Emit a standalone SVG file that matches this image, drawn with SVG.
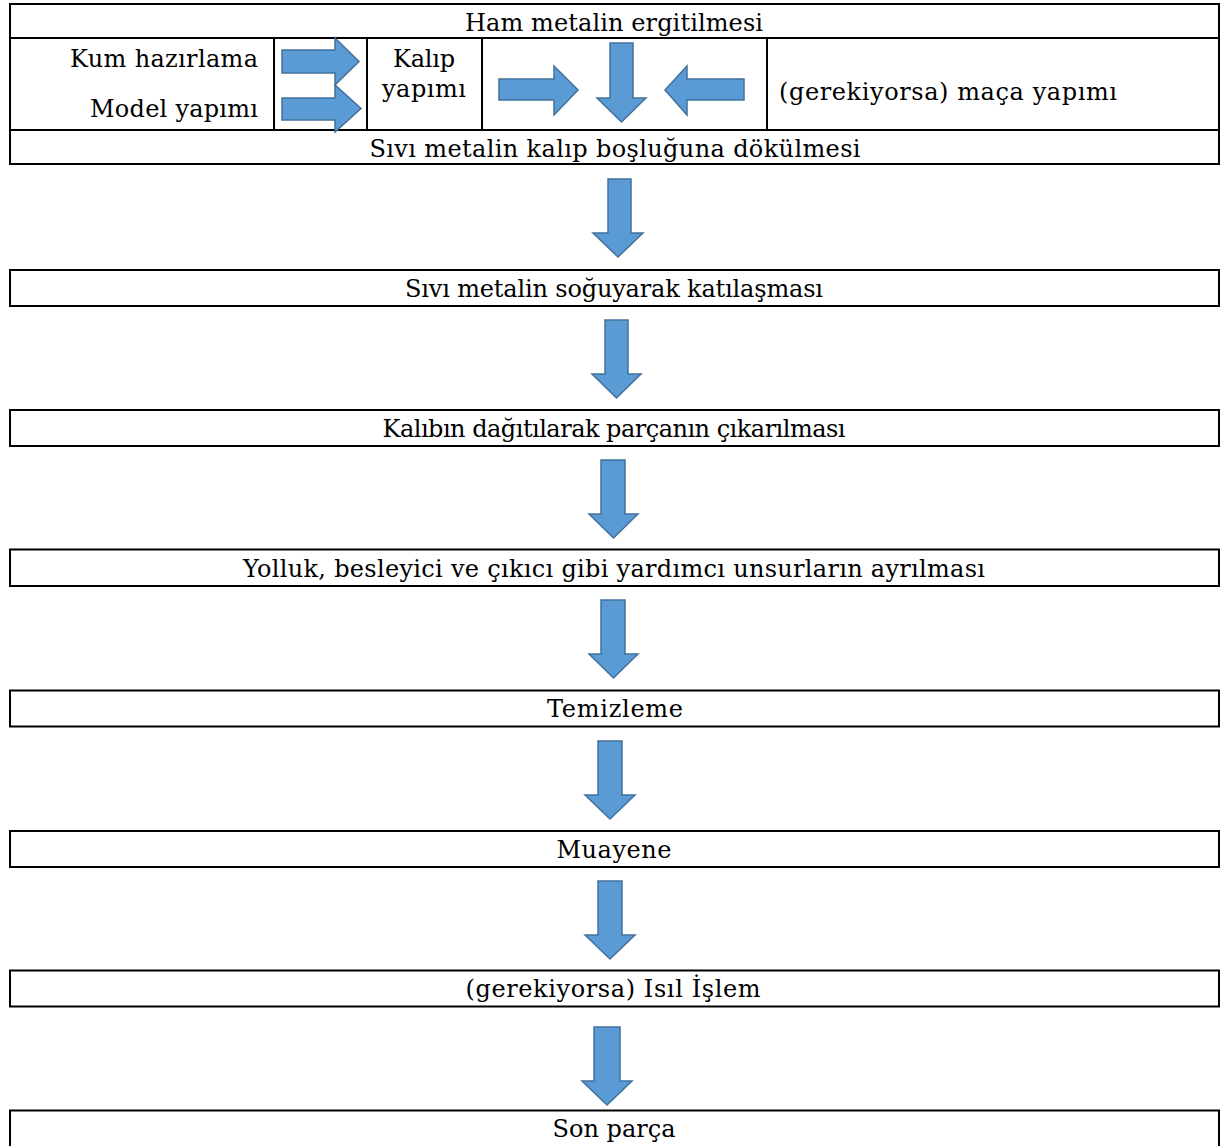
<svg xmlns="http://www.w3.org/2000/svg" width="1223" height="1146" viewBox="0 0 1223 1146">
<style>
.ln{fill:none;stroke:#000;stroke-width:2}
.box{fill:#fff;stroke:#000;stroke-width:2}
.ar{fill:#5B9BD5;stroke:#41719C;stroke-width:1.5;stroke-linejoin:miter}
text{font-family:"DejaVu Serif","Liberation Serif",serif;font-size:24px;fill:#000}
.c{text-anchor:middle}
.r{text-anchor:end}
</style>
<rect width="1223" height="1146" fill="#fff"/>
<g id="top-table">
<rect class="box" x="10" y="4" width="1209" height="160"/>
<line class="ln" x1="10" y1="38" x2="1219" y2="38"/>
<line class="ln" x1="10" y1="130" x2="1219" y2="130"/>
<line class="ln" x1="274" y1="38" x2="274" y2="130"/>
<line class="ln" x1="367" y1="38" x2="367" y2="130"/>
<line class="ln" x1="482" y1="38" x2="482" y2="130"/>
<line class="ln" x1="767" y1="38" x2="767" y2="130"/>
</g>
<g id="n-ham"><text class="c" x="614" y="31" textLength="298">Ham metalin ergitilmesi</text></g>
<g id="n-kum"><text class="r" x="258" y="67" textLength="188">Kum hazırlama</text></g>
<g id="n-model"><text class="r" x="258" y="117" textLength="168">Model yapımı</text></g>
<g id="n-kalip"><text class="c" x="424" y="67" textLength="62">Kalıp</text><text class="c" x="424" y="97" textLength="84">yapımı</text></g>
<g id="n-maca"><text x="779" y="100" textLength="338">(gerekiyorsa) maça yapımı</text></g>
<g id="n-dokulme"><text class="c" x="615" y="157" textLength="491">Sıvı metalin kalıp boşluğuna dökülmesi</text></g>
<g id="n-katilasma"><rect class="box" x="10" y="270" width="1209" height="36"/><text class="c" x="614" y="297" textLength="418">Sıvı metalin soğuyarak katılaşması</text></g>
<g id="n-kalibin"><rect class="box" x="10" y="410" width="1209" height="36"/><text class="c" x="614" y="437" textLength="463">Kalıbın dağıtılarak parçanın çıkarılması</text></g>
<g id="n-yolluk"><rect class="box" x="10" y="549.5" width="1209" height="36.5"/><text class="c" x="614" y="577" textLength="742">Yolluk, besleyici ve çıkıcı gibi yardımcı unsurların ayrılması</text></g>
<g id="n-temizleme"><rect class="box" x="10" y="690.5" width="1209" height="36"/><text class="c" x="615" y="717" textLength="136">Temizleme</text></g>
<g id="n-muayene"><rect class="box" x="10" y="831" width="1209" height="36"/><text class="c" x="614" y="858" textLength="115">Muayene</text></g>
<g id="n-isil"><rect class="box" x="10" y="970.5" width="1209" height="36"/><text class="c" x="613" y="997" textLength="295">(gerekiyorsa) Isıl İşlem</text></g>
<g id="n-son"><rect class="box" x="10" y="1110.5" width="1209" height="40"/><text class="c" x="614" y="1137" textLength="123">Son parça</text></g>
<g id="connectors">
<path class="ar" d="M282,50 H335 V38 L359,61.5 L335,85 V73 H282 Z"/>
<path class="ar" d="M282,98 H335 V85 L361,108.5 L335,132 V120 H282 Z"/>
<path class="ar" d="M499,79 H554 V66 L578,90 L554,115 V100 H499 Z"/>
<path class="ar" d="M610,43 H633 V98 H646 L621.5,122 L597,98 H610 Z"/>
<path class="ar" d="M744,79 H687 V66 L665,90 L687,115 V100 H744 Z"/>
<path class="ar" d="M608,179 H631 V233 H643 L618,257 L593,233 H608 Z"/>
<path class="ar" d="M605,320 H628 V374 H641 L616.5,398 L592,374 H605 Z"/>
<path class="ar" d="M601,460 H625 V514 H638 L613.5,538 L589,514 H601 Z"/>
<path class="ar" d="M601,600 H625 V654 H638 L613.5,678 L589,654 H601 Z"/>
<path class="ar" d="M598,741 H622 V795 H635 L610,819 L585,795 H598 Z"/>
<path class="ar" d="M598,881 H622 V935 H635 L610,959 L585,935 H598 Z"/>
<path class="ar" d="M594,1027 H620 V1081 H632 L607,1105 L582,1081 H594 Z"/>
</g>
</svg>
